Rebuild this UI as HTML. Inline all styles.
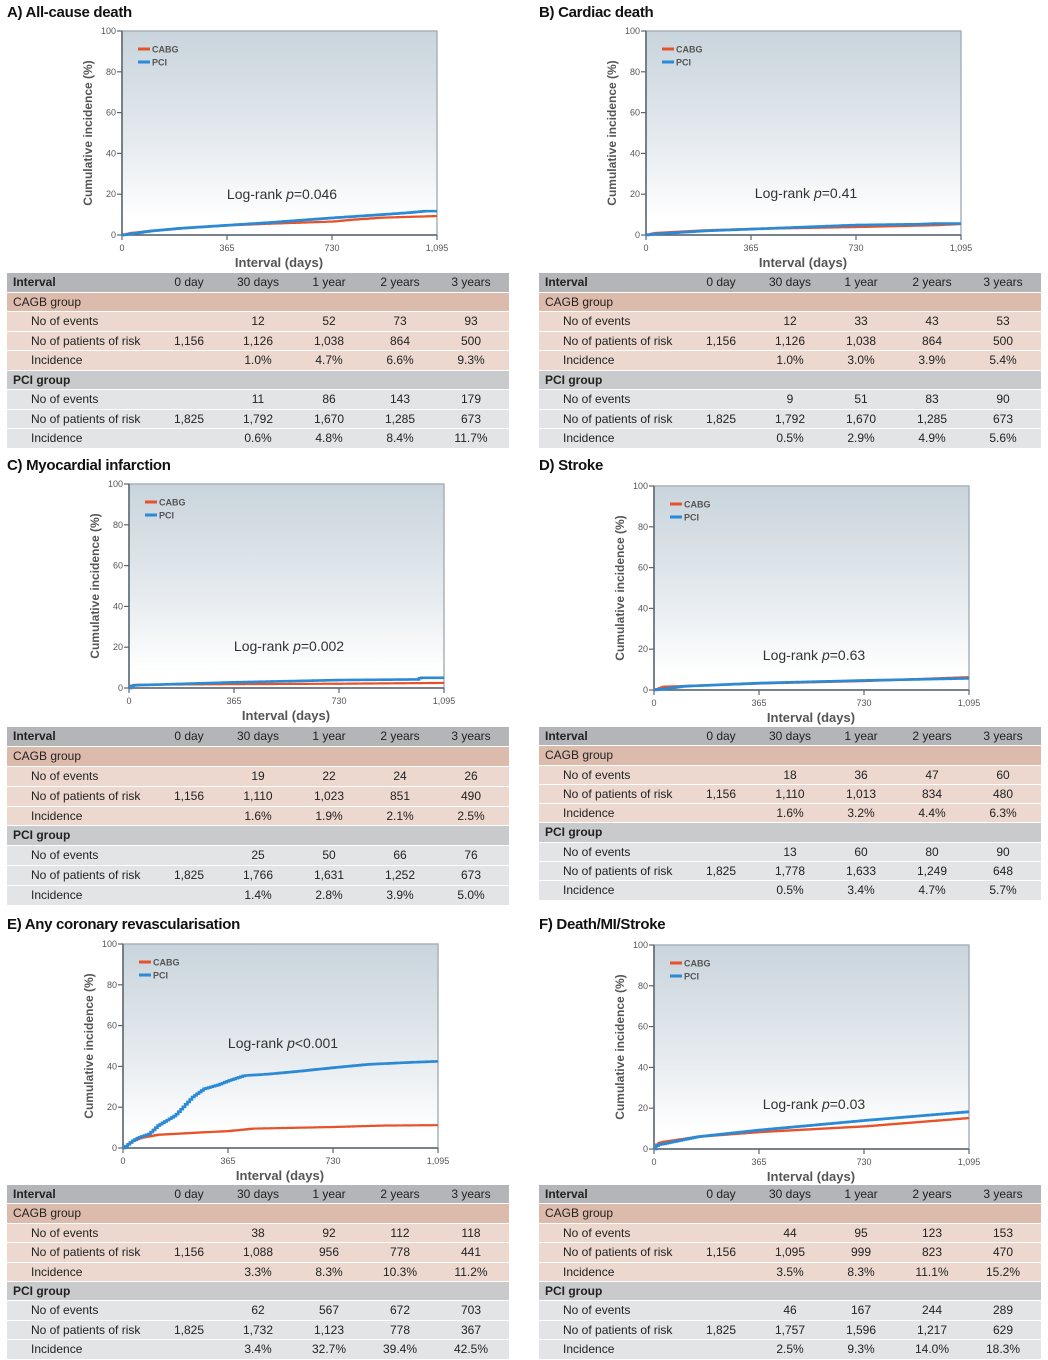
<!DOCTYPE html>
<html><head><meta charset="utf-8"><style>
body{margin:0;width:1048px;height:1360px;background:#fff;position:relative;overflow:hidden;font-family:"Liberation Sans Narrow","Liberation Sans",sans-serif;}
.t{position:absolute;font-size:15px;font-weight:bold;color:#111;letter-spacing:-0.3px}
.tb{position:absolute;width:502px;font-size:12px;color:#222}
.r{position:relative;border-bottom:1px solid #fff;box-sizing:border-box}
.r span{position:absolute;top:0;transform:translateX(-50%);white-space:nowrap}
.r .l{transform:none}
</style></head><body>
<svg id="s" width="1048" height="1360" style="position:absolute;left:0;top:0">
<defs><linearGradient id="g" x1="0" y1="0" x2="0" y2="1"><stop offset="0" stop-color="#c9d4dc"/><stop offset="0.55" stop-color="#e6ebef"/><stop offset="0.92" stop-color="#ffffff"/></linearGradient></defs>
</svg>
<script>
var P=[
{t:"A) All-cause death",tx:7,ty:4,px:122,py:31,lr:"Log-rank ",lv:"=0.046",ly:194,tab:[7,273,19.5],
c:[[0,0],[30,1],[100,2],[200,3.2],[365,4.7],[500,5.5],[730,6.6],[800,7.5],[900,8.5],[1095,9.3]],
p:[[0,0],[30,0.6],[100,2],[200,3.3],[365,4.8],[500,6],[730,8.4],[900,10],[1000,11],[1050,11.7],[1095,11.7]],
d:[["12","52","73","93"],["1,156","1,126","1,038","864","500"],["1.0%","4.7%","6.6%","9.3%"],["11","86","143","179"],["1,825","1,792","1,670","1,285","673"],["0.6%","4.8%","8.4%","11.7%"]]},
{t:"B) Cardiac death",tx:539,ty:4,px:646,py:31,lr:"Log-rank ",lv:"=0.41",ly:193,tab:[539,273,19.5],
c:[[0,0],[30,1],[200,2.3],[365,3],[730,3.9],[1000,4.8],[1095,5.4]],
p:[[0,0],[30,0.5],[200,2],[365,2.9],[730,4.9],[950,5.3],[1000,5.6],[1095,5.6]],
d:[["12","33","43","53"],["1,156","1,126","1,038","864","500"],["1.0%","3.0%","3.9%","5.4%"],["9","51","83","90"],["1,825","1,792","1,670","1,285","673"],["0.5%","2.9%","4.9%","5.6%"]]},
{t:"C) Myocardial infarction",tx:7,ty:457,px:129,py:484,lr:"Log-rank ",lv:"=0.002",ly:646,tab:[7,727,19.9],
c:[[0,0],[10,1.4],[30,1.6],[365,1.9],[730,2.1],[1095,2.5]],
p:[[0,0],[10,1.3],[30,1.4],[365,2.8],[730,3.9],[1000,4.2],[1010,5],[1095,5]],
d:[["19","22","24","26"],["1,156","1,110","1,023","851","490"],["1.6%","1.9%","2.1%","2.5%"],["25","50","66","76"],["1,825","1,766","1,631","1,252","673"],["1.4%","2.8%","3.9%","5.0%"]]},
{t:"D) Stroke",tx:539,ty:457,px:654,py:486,lr:"Log-rank ",lv:"=0.63",ly:655,tab:[539,727,19.3],
c:[[0,0],[30,1.6],[365,3.2],[730,4.4],[1095,6.3]],
p:[[0,0],[30,0.5],[100,1.8],[365,3.4],[730,4.7],[1095,5.7]],
d:[["18","36","47","60"],["1,156","1,110","1,013","834","480"],["1.6%","3.2%","4.4%","6.3%"],["13","60","80","90"],["1,825","1,778","1,633","1,249","648"],["0.5%","3.4%","4.7%","5.7%"]]},
{t:"E) Any coronary revascularisation",tx:7,ty:916,px:123,py:944,lr:"Log-rank ",lv:"<0.001",ly:1043,tab:[7,1185,19.4],
c:[[0,0],[30,3.3],[60,5],[120,6.5],[250,7.5],[365,8.3],[450,9.5],[730,10.3],[900,11],[1095,11.2]],
p:[[0,0],[30,3.4],[50,5],[90,7],[120,11],[180,16],[240,25],[280,29],[330,31],[365,33],[420,35.5],[500,36.2],[600,37.5],[730,39.4],[850,41],[1000,42],[1095,42.5]],
d:[["38","92","112","118"],["1,156","1,088","956","778","441"],["3.3%","8.3%","10.3%","11.2%"],["62","567","672","703"],["1,825","1,732","1,123","778","367"],["3.4%","32.7%","39.4%","42.5%"]]},
{t:"F) Death/MI/Stroke",tx:539,ty:916,px:654,py:945,lr:"Log-rank ",lv:"=0.03",ly:1104,tab:[539,1185,19.4],
c:[[0,0],[10,2.8],[30,3.5],[150,6],[365,8.3],[730,11.1],[1095,15.2]],
p:[[0,0],[10,2],[30,2.5],[150,6],[365,9.3],[730,14],[1095,18.3]],
d:[["44","95","123","153"],["1,156","1,095","999","823","470"],["3.5%","8.3%","11.1%","15.2%"],["46","167","244","289"],["1,825","1,757","1,596","1,217","629"],["2.5%","9.3%","14.0%","18.3%"]]}
];
var W=315,H=204,s=document.getElementById('s'),h='';
function interp(pts,t){for(var i=1;i<pts.length;i++){if(t<=pts[i][0]){var a=pts[i-1],b=pts[i];return a[1]+(b[1]-a[1])*(t-a[0])/(b[0]-a[0]);}}return pts[pts.length-1][1];}
function step(pts,x0,y0){var o='',py=null;for(var t=0;t<=1095;t+=8){var x=x0+t/1095*W,y=y0+H-interp(pts,t)/100*H;if(py===null)o+=x+','+y;else o+=' '+x+','+py+' '+x+','+y;py=y;}o+=' '+(x0+W)+','+py;return o;}
P.forEach(function(p){
var x=p.px,y=p.py;
h+='<rect x="'+x+'" y="'+y+'" width="'+W+'" height="'+H+'" fill="url(#g)" stroke="#a9b2ba" stroke-width="1.5"/>';
h+='<line x1="'+x+'" y1="'+y+'" x2="'+x+'" y2="'+(y+H)+'" stroke="#5b6670" stroke-width="1.5"/><line x1="'+x+'" y1="'+(y+H)+'" x2="'+(x+W)+'" y2="'+(y+H)+'" stroke="#5b6670" stroke-width="1.5"/>';
for(var k=0;k<=5;k++){var yy=y+H-k*H/5;h+='<line x1="'+(x-5)+'" y1="'+yy+'" x2="'+x+'" y2="'+yy+'" stroke="#5b6670" stroke-width="1.2"/><text x="'+(x-6)+'" y="'+(yy+3)+'" font-size="9" fill="#555" text-anchor="end" font-family="Liberation Sans Narrow,Liberation Sans,sans-serif">'+(k*20)+'</text>';}
["0","365","730","1,095"].forEach(function(l,k){var xx=x+k*W/3;h+='<line x1="'+xx+'" y1="'+(y+H)+'" x2="'+xx+'" y2="'+(y+H+5)+'" stroke="#5b6670" stroke-width="1.2"/><text x="'+xx+'" y="'+(y+H+16)+'" font-size="9" fill="#555" text-anchor="middle" font-family="Liberation Sans Narrow,Liberation Sans,sans-serif">'+l+'</text>';});
h+='<text x="'+(x+157)+'" y="'+(y+H+32)+'" font-size="13" font-weight="bold" fill="#555" text-anchor="middle" font-family="Liberation Sans Narrow,Liberation Sans,sans-serif">Interval  (days)</text>';
h+='<text transform="translate('+(x-30)+','+(y+H/2)+') rotate(-90)" font-size="12" font-weight="bold" fill="#555" text-anchor="middle" font-family="Liberation Sans Narrow,Liberation Sans,sans-serif">Cumulative incidence (%)</text>';
h+='<line x1="'+(x+16)+'" y1="'+(y+18)+'" x2="'+(x+28)+'" y2="'+(y+18)+'" stroke="#e8522a" stroke-width="3"/><text x="'+(x+30)+'" y="'+(y+21.5)+'" font-size="9" font-weight="bold" fill="#555" font-family="Liberation Sans,sans-serif">CABG</text>';
h+='<line x1="'+(x+16)+'" y1="'+(y+31)+'" x2="'+(x+28)+'" y2="'+(y+31)+'" stroke="#2b8ad6" stroke-width="3"/><text x="'+(x+30)+'" y="'+(y+34.5)+'" font-size="9" font-weight="bold" fill="#555" font-family="Liberation Sans,sans-serif">PCI</text>';
h+='<text x="'+(x+160)+'" y="'+(p.ly+5)+'" font-size="14" fill="#333" text-anchor="middle" font-family="Liberation Sans Narrow,Liberation Sans,sans-serif">'+p.lr+'<tspan font-style="italic">p</tspan>'+p.lv+'</text>';
h+='<polyline points="'+step(p.c,x,y)+'" fill="none" stroke="#e8522a" stroke-width="2.2"/>';
h+='<polyline points="'+step(p.p,x,y)+'" fill="none" stroke="#2b8ad6" stroke-width="2.6"/>';
var t=document.createElement('div');t.className='t';t.style.left=p.tx+'px';t.style.top=p.ty+'px';t.textContent=p.t;document.body.appendChild(t);
var tb=p.tab,rh=tb[2],d=document.createElement('div');d.className='tb';d.style.left=tb[0]+'px';d.style.top=tb[1]+'px';
var cols=[182,251,322,393,464],html='';
function row(bg,lab,ind,vals,bold){var r='<div class="r" style="height:'+rh+'px;line-height:'+(rh-1)+'px;background:'+bg+'"><span class="l" style="left:'+ind+'px;'+(bold?'font-weight:bold;':'')+'">'+lab+'</span>';
var off=vals.length==4?1:0;vals.forEach(function(v,i){r+='<span style="left:'+cols[i+off]+'px">'+v+'</span>';});return r+'</div>';}
html+=row('#b3b5b8','Interval',6,["0 day","30 days","1 year","2 years","3 years"],true);
html+=row('#ddbbac','CAGB group',6,[],false);
html+=row('#ecd8cf','No of events',24,p.d[0]);html+=row('#ecd8cf','No of patients of risk',24,p.d[1]);html+=row('#ecd8cf','Incidence',24,p.d[2]);
html+=row('#c9cacc','PCI group',6,[],true);
html+=row('#e3e4e6','No of events',24,p.d[3]);html+=row('#e3e4e6','No of patients of risk',24,p.d[4]);html+=row('#e3e4e6','Incidence',24,p.d[5]);
d.innerHTML=html;document.body.appendChild(d);
});
s.insertAdjacentHTML('beforeend',h);
</script>
</body></html>
